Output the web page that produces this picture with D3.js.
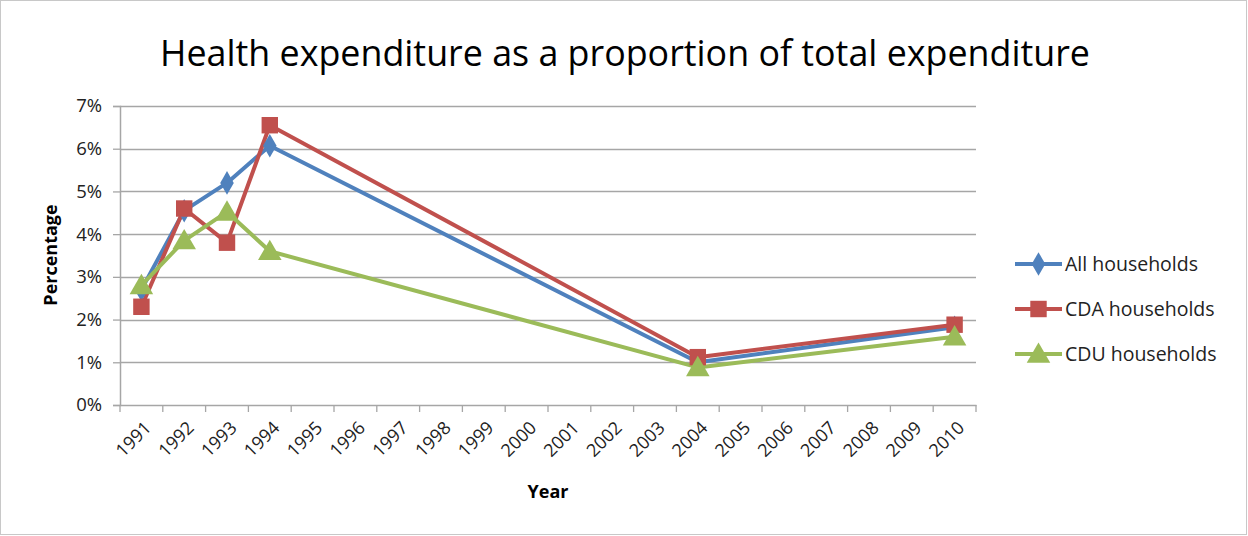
<!DOCTYPE html>
<html><head><meta charset="utf-8">
<script src="https://cdn.jsdelivr.net/npm/d3@7"></script>
<style>body{margin:0;background:#fff}svg{display:block}</style>
</head><body>
<svg id="c" width="1248" height="536"></svg>
<script>
const categories = ["1991","1992","1993","1994","1995","1996","1997","1998","1999","2000","2001","2002","2003","2004","2005","2006","2007","2008","2009","2010"];
const yTicks = [0,0.01,0.02,0.03,0.04,0.05,0.06,0.07];
const dataYears = ["1991","1992","1993","1994","2004","2010"];
const allHouseholds = [0.027,0.0455,0.052,0.0607,0.0100,0.0182];
const cdaHouseholds = [0.023,0.046,0.038,0.0655,0.0112,0.0188];
const cduHouseholds = [0.028,0.0385,0.0452,0.036,0.0088,0.0160];
const seriesNames = ["All households","CDA households","CDU households"];
const colors = ["#4F81BD","#C0504D","#9BBB59"];
const symbols = [d3.symbolDiamond, d3.symbolSquare, d3.symbolTriangle];
const symSizes = [160, 270, 240];

const font = "'Open Sans', Lato, sans-serif";
const svg = d3.select("#c");
svg.append("rect").attr("x",0.5).attr("y",0.5).attr("width",1246).attr("height",534)
  .attr("fill","#fff").attr("stroke","#c8c8c8");

const L=120, R=976, T=106, B=405;
const x = d3.scaleBand().domain(categories).range([L,R]);
const y = d3.scaleLinear().domain([0,0.07]).range([B,T]);

// gridlines
svg.append("g").selectAll("line").data(yTicks.slice(1)).join("line")
  .attr("x1",L).attr("x2",R).attr("y1",d=>Math.round(y(d))+0.5).attr("y2",d=>Math.round(y(d))+0.5)
  .attr("stroke","#a6a6a6").attr("stroke-width",1.3);

// y axis
const yAxis = svg.append("g").attr("transform",`translate(${L},0)`)
  .call(d3.axisLeft(y).tickValues(yTicks).tickFormat(d3.format(".0%")).tickSize(7).tickPadding(11));
yAxis.select(".domain").attr("stroke","#a6a6a6").attr("stroke-width",1.5);
yAxis.selectAll(".tick line").attr("stroke","#a6a6a6").attr("stroke-width",1.3);
yAxis.selectAll("text").attr("font-family",font).attr("font-size",18.5).attr("fill","#222");

// x axis
const xAxis = svg.append("g").attr("transform",`translate(0,${B})`)
  .call(d3.axisBottom(x).tickSize(0).tickFormat(""));
xAxis.select(".domain").attr("stroke","#a6a6a6").attr("stroke-width",1.5);
const bw = x.step();
const tickPos = d3.range(categories.length+1).map(i=>L+i*bw);
svg.append("g").selectAll("line").data(tickPos).join("line")
  .attr("x1",d=>d).attr("x2",d=>d).attr("y1",B).attr("y2",B+7)
  .attr("stroke","#a6a6a6").attr("stroke-width",1.3);
svg.append("g").selectAll("text").data(categories).join("text")
  .attr("transform",d=>`translate(${x(d)+bw/2+2},${B+15}) rotate(-45)`)
  .attr("text-anchor","end").attr("dy","0.7em")
  .attr("font-family",font).attr("font-size",18).attr("fill","#222").text(d=>d);

// series
const series = [allHouseholds, cdaHouseholds, cduHouseholds];
const line = d3.line().x((d,i)=>x(dataYears[i])+bw/2).y(d=>y(d));
[0,1,2].forEach(s=>{
  svg.append("path").datum(series[s]).attr("d",line).attr("fill","none")
    .attr("stroke",colors[s]).attr("stroke-width",4).attr("stroke-linejoin","round");
});
[0,1,2].forEach(s=>{
  svg.append("g").selectAll("path").data(series[s]).join("path")
    .attr("transform",(d,i)=>`translate(${x(dataYears[i])+bw/2},${y(d)+(s===2?2:0)})`)
    .attr("d",d3.symbol().type(symbols[s]).size(symSizes[s])).attr("fill",colors[s]);
});

// title
const title = svg.append("text").attr("x",625).attr("y",66).attr("text-anchor","middle")
  .attr("font-family",font).attr("font-size",30).attr("fill","#000")
  .text("Health expenditure as a proportion of total expenditure");
const tw = title.node().getComputedTextLength();
title.attr("font-size", 30*930/tw);

// axis titles
svg.append("text").attr("transform","translate(57,255) rotate(-90)").attr("text-anchor","middle")
  .attr("font-family",font).attr("font-size",18).attr("font-weight","bold").text("Percentage");
svg.append("text").attr("x",548).attr("y",498).attr("text-anchor","middle")
  .attr("font-family",font).attr("font-size",18).attr("font-weight","bold").text("Year");

// legend
const lg = svg.append("g");
seriesNames.forEach((n,i)=>{
  const ly = 264 + i*45;
  lg.append("line").attr("x1",1015).attr("x2",1062).attr("y1",ly).attr("y2",ly)
    .attr("stroke",colors[i]).attr("stroke-width",4);
  lg.append("path").attr("transform",`translate(1038.5,${ly+(i===2?2:0)})`)
    .attr("d",d3.symbol().type(symbols[i]).size(symSizes[i])).attr("fill",colors[i]);
  lg.append("text").attr("x",1065).attr("y",ly).attr("dy","0.35em")
    .attr("font-family",font).attr("font-size",19.5).attr("fill","#222").text(n);
});
</script>
</body></html>
